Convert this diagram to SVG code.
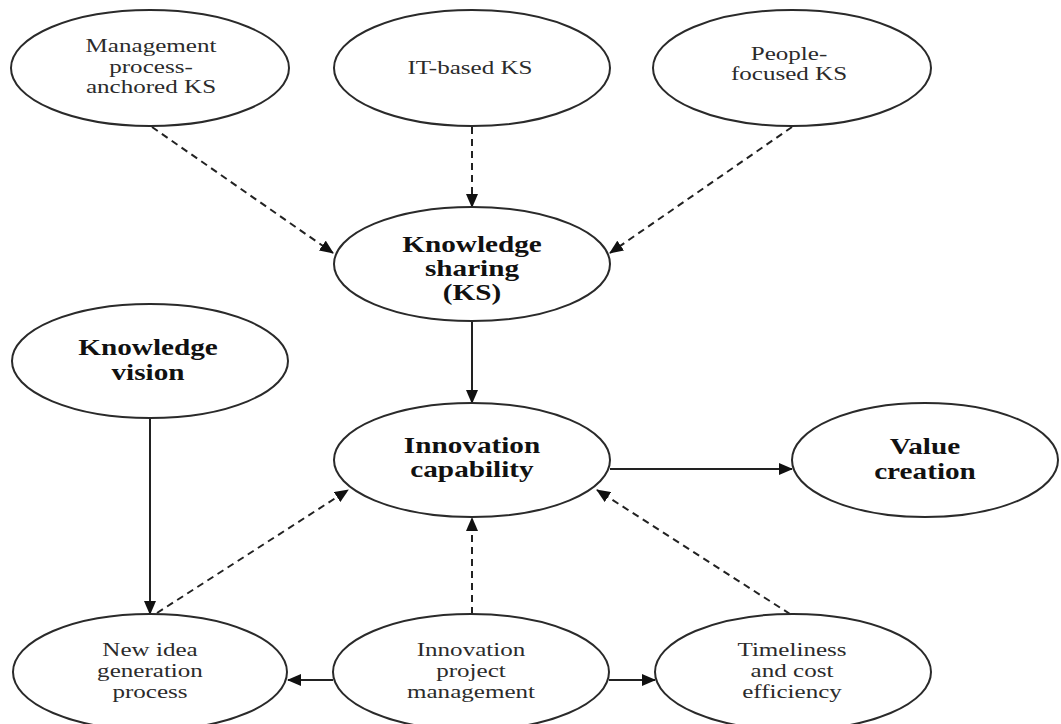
<svg xmlns="http://www.w3.org/2000/svg" width="1061" height="724" viewBox="0 0 1061 724">
  <style>
    .node { fill: #ffffff; stroke: #2a2a2a; stroke-width: 2; }
    .reg { font-family: "Liberation Serif", "Times New Roman", serif; font-size: 19px; fill: #2b2b2b; text-anchor: middle; }
    .bold { font-family: "Liberation Serif", "Times New Roman", serif; font-size: 22.5px; font-weight: bold; fill: #111111; text-anchor: middle; }
    .solid { fill: none; stroke: #222222; stroke-width: 2; marker-end: url(#head); }
    .dash { fill: none; stroke: #222222; stroke-width: 2; stroke-dasharray: 7 5; marker-end: url(#head); }
  </style>
  <defs>
    <marker id="head" markerUnits="userSpaceOnUse" markerWidth="14" markerHeight="12" refX="13" refY="6" orient="auto">
      <path d="M0,0 L14,6 L0,12 z" fill="#111111"/>
    </marker>
  </defs>
  <rect width="1061" height="724" fill="#ffffff"/>

  <!-- connectors -->
  <g id="connectors">
    <line class="dash" x1="152" y1="127" x2="333" y2="253"/>
    <line class="dash" x1="472" y1="127" x2="472" y2="207"/>
    <line class="dash" x1="792" y1="127" x2="610" y2="253"/>
    <line class="solid" x1="472" y1="321" x2="472" y2="403"/>
    <line class="solid" x1="610" y1="469" x2="792" y2="469"/>
    <line class="solid" x1="150" y1="419" x2="150" y2="614"/>
    <line class="dash" x1="157" y1="613" x2="348" y2="490"/>
    <line class="dash" x1="472" y1="614" x2="472" y2="518"/>
    <line class="dash" x1="790" y1="614" x2="597" y2="490"/>
    <line class="solid" x1="333" y1="680" x2="288" y2="680"/>
    <line class="solid" x1="609" y1="680" x2="655" y2="680"/>
  </g>

  <!-- top row: knowledge sharing forms -->
  <g id="mgmt-ks">
    <ellipse class="node" cx="150" cy="68" rx="139" ry="58"/>
    <text class="reg" transform="translate(151,0) scale(1.32,1)"><tspan x="0" y="52">Management</tspan><tspan x="0" y="73">process-</tspan><tspan x="0" y="93">anchored KS</tspan></text>
  </g>
  <g id="it-ks">
    <ellipse class="node" cx="472" cy="68" rx="138" ry="58"/>
    <text class="reg" transform="translate(470,0) scale(1.32,1)"><tspan x="0" y="74">IT-based KS</tspan></text>
  </g>
  <g id="people-ks">
    <ellipse class="node" cx="792" cy="68" rx="139" ry="58"/>
    <text class="reg" transform="translate(789,0) scale(1.32,1)"><tspan x="0" y="60">People-</tspan><tspan x="0" y="80">focused KS</tspan></text>
  </g>

  <!-- core constructs -->
  <g id="knowledge-sharing">
    <ellipse class="node" cx="472" cy="264" rx="138" ry="57"/>
    <text class="bold" transform="translate(472,0) scale(1.3,1)"><tspan x="0" y="252">Knowledge</tspan><tspan x="0" y="276">sharing</tspan><tspan x="0" y="300">(KS)</tspan></text>
  </g>
  <g id="knowledge-vision">
    <ellipse class="node" cx="150" cy="361" rx="138" ry="57"/>
    <text class="bold" transform="translate(148,0) scale(1.3,1)"><tspan x="0" y="355">Knowledge</tspan><tspan x="0" y="380">vision</tspan></text>
  </g>
  <g id="innovation-capability">
    <ellipse class="node" cx="472" cy="460" rx="138" ry="57"/>
    <text class="bold" transform="translate(472,0) scale(1.3,1)"><tspan x="0" y="453">Innovation</tspan><tspan x="0" y="477">capability</tspan></text>
  </g>
  <g id="value-creation">
    <ellipse class="node" cx="925" cy="460" rx="133" ry="57"/>
    <text class="bold" transform="translate(925,0) scale(1.3,1)"><tspan x="0" y="454">Value</tspan><tspan x="0" y="479">creation</tspan></text>
  </g>

  <!-- bottom row: innovation process -->
  <g id="new-idea">
    <ellipse class="node" cx="150" cy="672" rx="137" ry="58"/>
    <text class="reg" transform="translate(150,0) scale(1.32,1)"><tspan x="0" y="656">New idea</tspan><tspan x="0" y="677">generation</tspan><tspan x="0" y="698">process</tspan></text>
  </g>
  <g id="project-management">
    <ellipse class="node" cx="471" cy="672" rx="138" ry="58"/>
    <text class="reg" transform="translate(471,0) scale(1.32,1)"><tspan x="0" y="656">Innovation</tspan><tspan x="0" y="677">project</tspan><tspan x="0" y="698">management</tspan></text>
  </g>
  <g id="timeliness">
    <ellipse class="node" cx="793" cy="672" rx="138" ry="58"/>
    <text class="reg" transform="translate(792,0) scale(1.32,1)"><tspan x="0" y="656">Timeliness</tspan><tspan x="0" y="677">and cost</tspan><tspan x="0" y="698">efficiency</tspan></text>
  </g>
</svg>
